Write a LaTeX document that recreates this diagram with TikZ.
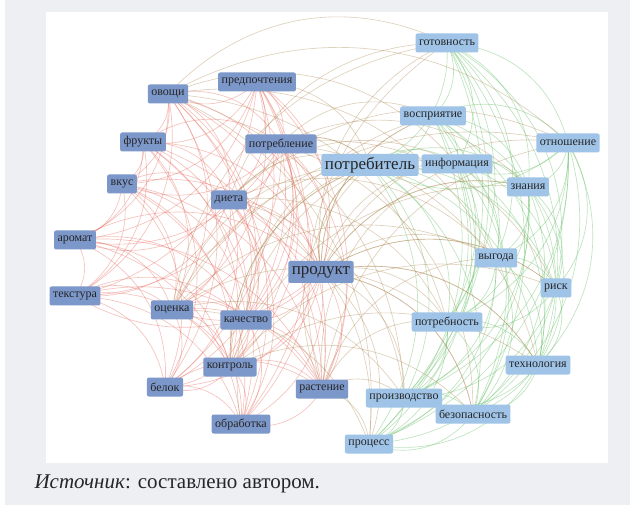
\documentclass[tikz,border=0pt]{standalone}
\usepackage{fontspec}
\setmainfont{Liberation Serif}
\usepackage{xcolor}
\usetikzlibrary{calc}
\definecolor{pagegray}{HTML}{EDEFF3}
\definecolor{darknode}{HTML}{7C97C9}
\definecolor{lightnode}{HTML}{9FC4E8}
\definecolor{rededge}{HTML}{E8685C}
\definecolor{greenedge}{HTML}{5DBB5D}
\definecolor{mixedge}{HTML}{B08A55}
\pgfdeclarelayer{bg}
\pgfdeclarelayer{links}
\pgfsetlayers{bg,links,main}
\tikzset{
    term/.style={rounded corners=2pt, inner xsep=3.5pt, inner ysep=3pt, text=black!85,
        font=\fontsize{12}{14}\selectfont, minimum height=19pt},
    darkterm/.style={term, fill=darknode},
    lightterm/.style={term, fill=lightnode},
    bigterm/.style={font=\fontsize{17}{19}\selectfont, minimum height=22pt},
    redlink/.style={draw=rededge, draw opacity=.4, line width=.65pt, bend left=36},
    greenlink/.style={draw=greenedge, draw opacity=.4, line width=.65pt, bend left=36},
    mixlink/.style={draw=mixedge, draw opacity=.4, line width=.65pt, bend left=36}
}
\def\darklist{predp,ovoshi,frukty,potrebl,vkus,dieta,aromat,produkt,tekstura,ocenka,kachestvo,kontrol,belok,rastenie,obrab}
\def\lightlist{gotov,vospr,otnosh,potrebit,inform,znan,vygoda,risk,potrebn,tehnol,proizv,bezop,process}

\begin{document}
\begin{tikzpicture}[x=1pt, y=-1pt]
    \useasboundingbox (0, 0) rectangle (635, 505);
    \begin{pgfonlayer}{bg}
        \fill[pagegray] (5, 0) rectangle (630, 505);
        \fill[white] (46, 12) rectangle (608, 463);
    \end{pgfonlayer}

    % light cluster
    \node[lightterm] (gotov) at (447, 43) {готовность};
    \node[lightterm] (vospr) at (433, 116) {восприятие};
    \node[lightterm] (otnosh) at (568, 143) {отношение};
    \node[lightterm, bigterm] (potrebit) at (370, 165) {потребитель};
    \node[lightterm] (inform) at (457, 164) {информация};
    \node[lightterm] (znan) at (528, 187) {знания};
    \node[lightterm] (vygoda) at (496, 258) {выгода};
    \node[lightterm] (risk) at (556, 288) {риск};
    \node[lightterm] (potrebn) at (447, 322) {потребность};
    \node[lightterm] (tehnol) at (538, 365) {технология};
    \node[lightterm] (proizv) at (404, 398) {производство};
    \node[lightterm] (bezop) at (473, 414) {безопасность};
    \node[lightterm] (process) at (369, 444) {процесс};

    % dark cluster
    \node[darkterm] (predp) at (257, 82) {предпочтения};
    \node[darkterm] (ovoshi) at (168, 94) {овощи};
    \node[darkterm] (frukty) at (143, 142) {фрукты};
    \node[darkterm] (potrebl) at (281, 144) {потребление};
    \node[darkterm] (vkus) at (122, 184) {вкус};
    \node[darkterm] (dieta) at (229, 200) {диета};
    \node[darkterm] (aromat) at (75, 240) {аромат};
    \node[darkterm, bigterm] (produkt) at (321, 272) {продукт};
    \node[darkterm] (tekstura) at (75, 296) {текстура};
    \node[darkterm] (ocenka) at (172, 310) {оценка};
    \node[darkterm] (kachestvo) at (246, 320) {качество};
    \node[darkterm] (kontrol) at (230, 367) {контроль};
    \node[darkterm] (belok) at (165, 387) {белок};
    \node[darkterm] (rastenie) at (322, 389) {растение};
    \node[darkterm] (obrab) at (241, 424) {обработка};

    \begin{pgfonlayer}{links}
        \foreach \a [count=\i] in \darklist {
            \foreach \b [count=\j] in \darklist {
                \ifnum\j>\i \draw[redlink] (\a.center) to (\b.center); \fi
            }
        }
        \foreach \a [count=\i] in \lightlist {
            \foreach \b [count=\j] in \lightlist {
                \ifnum\j>\i \draw[greenlink] (\a.center) to (\b.center); \fi
            }
        }
        % links between the two clusters
        \foreach \a [count=\i] in \darklist {
            \foreach \b [count=\j] in \lightlist {
                \pgfmathtruncatemacro\pick{mod(\i+2*\j,4)}
                \ifnum\pick=0 \draw[mixlink] (\a.center) to (\b.center); \fi
            }
        }
        \foreach \b in \lightlist {
            \draw[mixlink] (produkt.center) to (\b.center);
        }
        \foreach \a in {predp,potrebl,dieta,kachestvo,rastenie,ocenka,obrab,kontrol} {
            \draw[mixlink] (\a.center) to (potrebit.center);
        }
    \end{pgfonlayer}

    \node[anchor=base west, font=\fontsize{21}{24}\selectfont, text=black!85] (source) at (31, 488)
        {\textit{Источник}: составлено автором.};
\end{tikzpicture}
\end{document}
